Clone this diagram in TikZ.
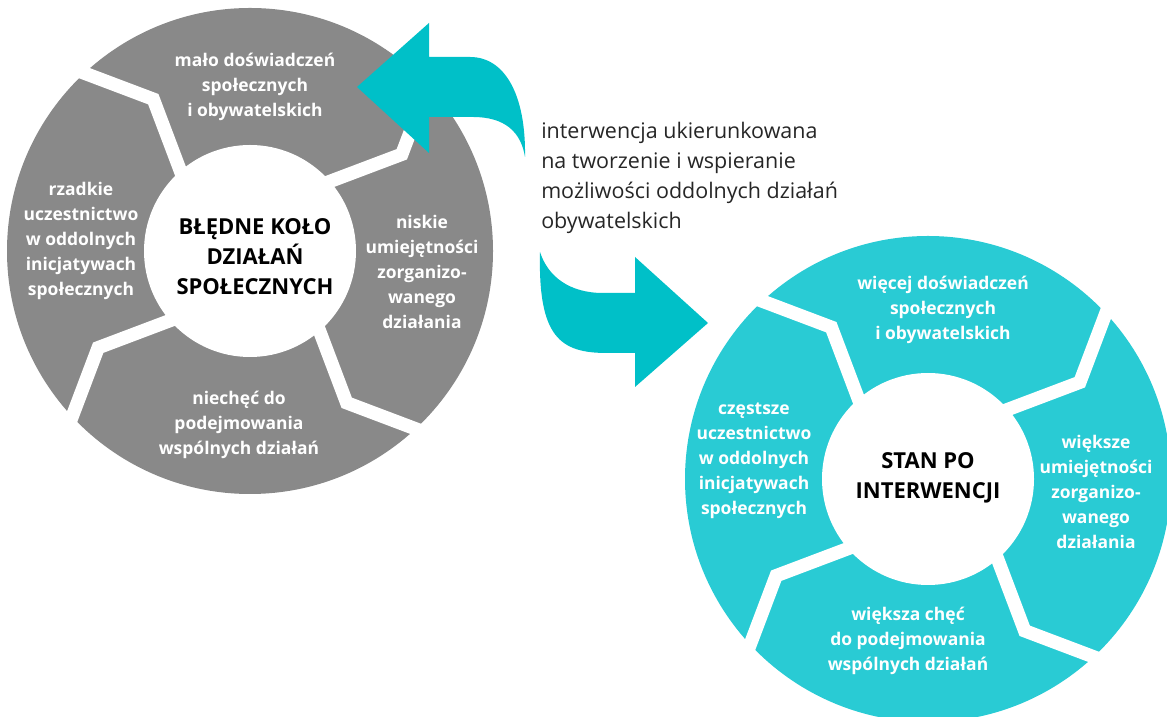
\documentclass[tikz,border=0pt]{standalone}
\usepackage{fontspec}
\setmainfont{Open Sans}

\definecolor{ringgray}{HTML}{898989}
\definecolor{ringcyan}{HTML}{29CBD4}
\definecolor{arrowcyan}{HTML}{00C0C8}

\tikzset{
  gapline/.style={white, line width=10pt, line join=miter},
  seglabel/.style={text=white, align=center, inner sep=0pt,
    font=\fontsize{13.1}{18.75}\selectfont\bfseries},
  hubtitle/.style={text=black, align=center, inner sep=0pt,
    font=\fontsize{16.5}{22.5}\selectfont\bfseries},
  midnote/.style={text=black!85, align=left, inner sep=0pt,
    font=\fontsize{16.1}{22.5}\selectfont},
  bigarrow/.style={fill=arrowcyan, draw=none},
}

\begin{document}
\begin{tikzpicture}[x=0.75pt, y=0.75pt] %1 unit = 1 px
            \useasboundingbox (0,0) rectangle (1167,717);

            % left ring
            \fill[ringgray] (250,466) circle (243);
            \foreach \m in {32.5,122.5,212.5,302.5}
              \draw[gapline, shift={(250,466)}] (\m+12.5:262) -- (\m:180) -- (\m+11:95);
            \fill[white] (250,466) circle (106);

            \node[seglabel] (lTop) at (255,630) {mało doświadczeń\\społecznych\\i obywatelskich};
            \node[seglabel] (lRight) at (422,445) {niskie\\umiejętności\\zorganizo-\\wanego\\działania};
            \node[seglabel] (lBottom) at (239,292) {niechęć do\\podejmowania\\wspólnych działań};
            \node[seglabel] (lLeft) at (81,476) {rzadkie\\uczestnictwo\\w oddolnych\\inicjatywach\\społecznych};
            \node[hubtitle] (lHub) at (255,460) {BŁĘDNE KOŁO\\DZIAŁAŃ\\SPOŁECZNYCH};

            % right ring
            \fill[ringcyan] (928,238) circle (243);
            \foreach \m in {32.5,122.5,212.5,302.5}
              \draw[gapline, shift={(928,238)}] (\m+12.5:262) -- (\m:180) -- (\m+11:95);
            \fill[white] (928,238) circle (106);

            \node[seglabel] (rTop) at (943,407) {więcej doświadczeń\\społecznych\\i obywatelskich};
            \node[seglabel] (rRight) at (1096,225) {większe\\umiejętności\\zorganizo-\\wanego\\działania};
            \node[seglabel] (rBottom) at (908,76) {większa chęć\\do podejmowania\\wspólnych działań};
            \node[seglabel] (rLeft) at (754,256) {częstsze\\uczestnictwo\\w oddolnych\\inicjatywach\\społecznych};
            \node[hubtitle] (rHub) at (928,239) {STAN PO\\INTERWENCJI};

            % arrows
            \fill[bigarrow] (429,660) -- (470,660) .. controls (505,660) and (526,622) .. (525,560)
              .. controls (521,585) and (505,600) .. (473,600) -- (429,600) -- (429,564)
              -- (357,630) -- (429,694) -- cycle;
            \fill[bigarrow] (540,465) .. controls (538,380) and (560,364) .. (607,364) -- (635,364)
              -- (635,330) -- (708,394) -- (635,460) -- (635,424) -- (603,424)
              .. controls (570,424) and (548,440) .. (540,465) -- cycle;

            \node[midnote, anchor=west] (note) at (541,539) {interwencja ukierunkowana\\na tworzenie i wspieranie\\możliwości oddolnych działań\\obywatelskich};
\end{tikzpicture}
\end{document}
